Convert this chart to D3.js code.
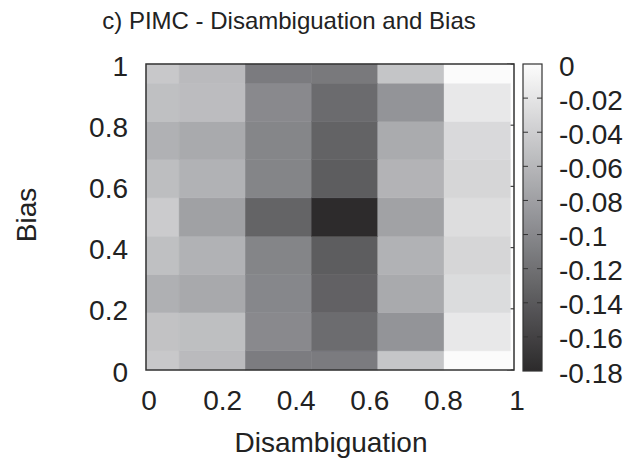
<!DOCTYPE html>
<html>
<head>
<meta charset="utf-8">
<script src="https://cdn.jsdelivr.net/npm/d3@7"></script>
<style>
  html, body { margin: 0; padding: 0; background: #fff; }
  svg { display: block; }
  text { font-family: "Liberation Sans", Arial, Helvetica, sans-serif; fill: #222; }
</style>
</head>
<body>
<svg id="chart" width="628" height="459"></svg>
<script>
// ---- data ----
const xValues = [0, 0.18, 0.36, 0.54, 0.72, 0.9];
const yValues = [0, 0.125, 0.25, 0.375, 0.5, 0.625, 0.75, 0.875, 1];
// rows from Bias = 0 (bottom) to Bias = 1 (top); columns follow xValues
const row0   = [-0.045, -0.057, -0.110, -0.111, -0.047, -0.001];
const row125 = [-0.050, -0.053, -0.099, -0.124, -0.090, -0.017];
const row250 = [-0.066, -0.072, -0.101, -0.133, -0.071, -0.028];
const row375 = [-0.052, -0.064, -0.103, -0.137, -0.064, -0.033];
const row500 = [-0.042, -0.079, -0.131, -0.179, -0.078, -0.027];
const row625 = [-0.054, -0.064, -0.103, -0.137, -0.063, -0.033];
const row750 = [-0.065, -0.071, -0.102, -0.132, -0.070, -0.030];
const row875 = [-0.052, -0.055, -0.099, -0.125, -0.090, -0.017];
const row1   = [-0.045, -0.057, -0.111, -0.113, -0.048, -0.001];
const rows = [row0, row125, row250, row375, row500, row625, row750, row875, row1];
const xTicks = [0, 0.2, 0.4, 0.6, 0.8, 1];
const yTicks = [0, 0.2, 0.4, 0.6, 0.8, 1];
const cbTicks = [0, -0.02, -0.04, -0.06, -0.08, -0.1, -0.12, -0.14, -0.16, -0.18];
const xStep = 0.18, yStep = 0.125;

// ---- layout ----
const svg = d3.select("#chart");
const L = 146, R = 514, T = 64, B = 370;
const x = d3.scaleLinear().domain([0, 1]).range([L, R]);
const y = d3.scaleLinear().domain([0, 1]).range([B, T]);
const color = d3.scaleLinear().domain([-0.18, -0.09, 0])
  .range(["#2c2a2b", "#939498", "#fcfcfc"]);
const fmt = d => String(+d.toFixed(2)); // plain hyphen-minus like the original

// mirror ticks (drawn beneath image)
const tickG = svg.append("g").attr("stroke", "#444").attr("stroke-width", 1.2);
yTicks.forEach(t => {
  tickG.append("line").attr("x1", x(1) - 7).attr("x2", x(1)).attr("y1", y(t)).attr("y2", y(t));
});

// cells
const cells = [];
rows.forEach((r, j) => r.forEach((v, i) => cells.push({ xc: xValues[i], yc: yValues[j], v })));
const clip01 = v => Math.max(0, Math.min(1, v));
svg.append("g").selectAll("rect").data(cells).join("rect")
  .attr("x", d => x(clip01(d.xc - xStep / 2)))
  .attr("width", d => x(clip01(d.xc + xStep / 2)) - x(clip01(d.xc - xStep / 2)))
  .attr("y", d => y(clip01(d.yc + yStep / 2)))
  .attr("height", d => y(clip01(d.yc - yStep / 2)) - y(clip01(d.yc + yStep / 2)))
  .attr("fill", d => color(d.v))
  .attr("stroke", d => color(d.v)).attr("stroke-width", 0.5);

// frame
svg.append("rect").attr("x", L).attr("y", T).attr("width", R - L).attr("height", B - T)
  .attr("fill", "none").attr("stroke", "#333").attr("stroke-width", 1.5);

// tick labels
const fs = 28;
svg.append("g").selectAll("text").data(xTicks).join("text")
  .attr("x", d => x(d) + 3).attr("y", 410)
  .attr("text-anchor", "middle").attr("font-size", fs)
  .text(fmt);
svg.append("g").selectAll("text").data(yTicks).join("text")
  .attr("x", 128).attr("y", d => y(d) + 2)
  .attr("dominant-baseline", "central")
  .attr("text-anchor", "end").attr("font-size", fs)
  .text(fmt);

// axis labels
svg.append("text").attr("x", 331).attr("y", 452).attr("text-anchor", "middle")
  .attr("font-size", fs).text("Disambiguation");
svg.append("text").attr("transform", "translate(36,215) rotate(-90)")
  .attr("text-anchor", "middle").attr("font-size", fs).text("Bias");

// title
svg.append("text").attr("x", 289).attr("y", 29).attr("text-anchor", "middle")
  .attr("font-size", 24).text("c) PIMC - Disambiguation and Bias");

// colorbar
const cbL = 523, cbR = 542, cbT = 64, cbB = 371;
const cy = d3.scaleLinear().domain([-0.18, 0]).range([cbB, cbT]);
const defs = svg.append("defs");
const grad = defs.append("linearGradient").attr("id", "cbgrad")
  .attr("x1", 0).attr("y1", 1).attr("x2", 0).attr("y2", 0);
d3.range(0, 1.0001, 0.05).forEach(f => {
  grad.append("stop").attr("offset", f).attr("stop-color", color(-0.18 + 0.18 * f));
});
svg.append("rect").attr("x", cbL).attr("y", cbT).attr("width", cbR - cbL).attr("height", cbB - cbT)
  .attr("fill", "url(#cbgrad)").attr("stroke", "#333").attr("stroke-width", 1.2);
const cbTickG = svg.append("g").attr("stroke", "#333").attr("stroke-width", 1);
cbTicks.slice(1, -1).forEach(t => {
  cbTickG.append("line").attr("x1", cbL).attr("x2", cbL + 5).attr("y1", cy(t)).attr("y2", cy(t));
  cbTickG.append("line").attr("x1", cbR - 5).attr("x2", cbR).attr("y1", cy(t)).attr("y2", cy(t));
});
svg.append("g").selectAll("text").data(cbTicks).join("text")
  .attr("x", 559).attr("y", d => cy(d) + 2)
  .attr("dominant-baseline", "central").attr("font-size", fs)
  .text(fmt);
</script>
</body>
</html>
